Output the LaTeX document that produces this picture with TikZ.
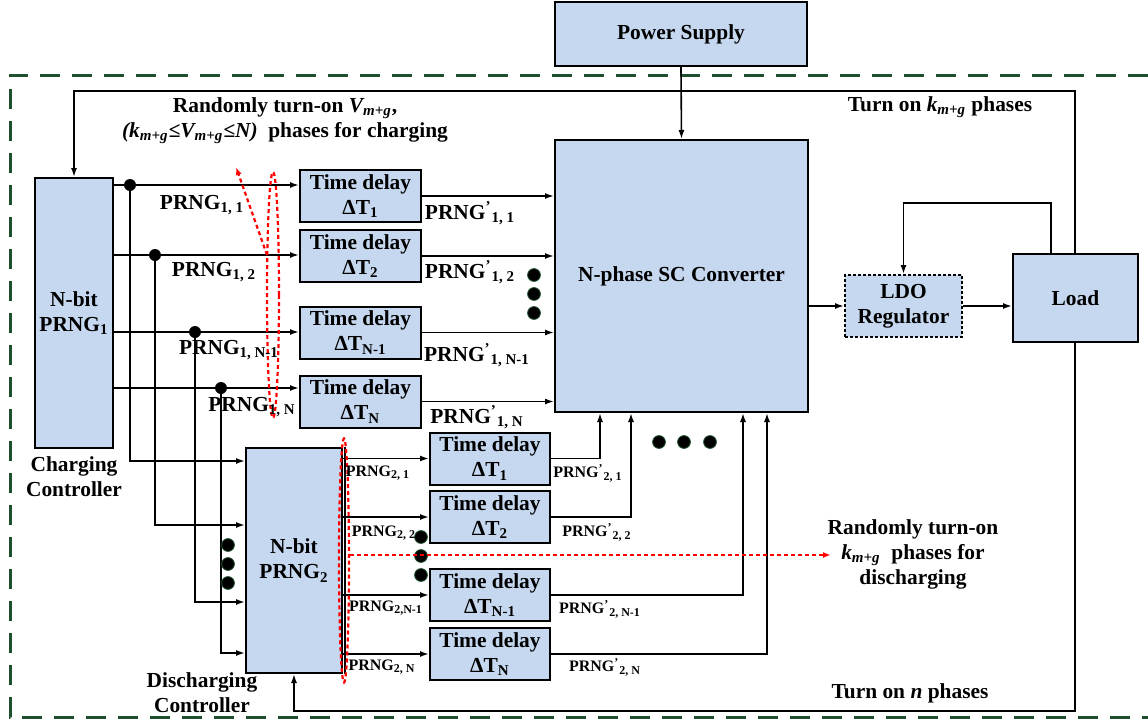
\documentclass[tikz,border=0pt]{standalone}
\usepackage{fontspec}
\setmainfont{Liberation Serif}
\usetikzlibrary{arrows.meta,calc}
\definecolor{boxblue}{RGB}{198,216,239}
\definecolor{dgreen}{RGB}{30,80,45}
\newcommand{\prngl}[2]{PRNG\textsubscript{#1, #2}}
\newcommand{\prngq}[2]{PRNG\textsuperscript{’}\textsubscript{#1, #2}}
\begin{document}
\begin{tikzpicture}[x=0.5pt,y=-0.5pt,
  font=\fontsize{10.7}{12.5}\selectfont\bfseries,
  blk/.style={draw, fill=boxblue, line width=1pt, align=center, inner sep=0pt},
  tdbox/.style={blk, minimum width=60.5pt, minimum height=26pt},
  bdbox/.style={blk, minimum width=60pt, minimum height=26pt},
  arr/.style={line width=0.8pt, -{Latex[length=4.5pt,width=3pt]}},
  arrboth/.style={line width=0.8pt, {Latex[length=4.5pt,width=3pt]}-{Latex[length=4.5pt,width=3pt]}},
  wire/.style={line width=0.8pt},
  lab/.style={inner sep=0pt, align=center},
  sml/.style={inner sep=0pt, font=\fontsize{8}{9.5}\selectfont\bfseries},
  redd/.style={red, line width=1.1pt, dash pattern=on 2pt off 1.5pt},
  jdot/.style={fill=black},
  edot/.style={fill=black, draw=dgreen, line width=0.4pt}]
\useasboundingbox (0,0) rectangle (1148,723);

% outer dashed frame
\draw[dgreen, line width=1.5pt, dash pattern=on 10pt off 6pt] (1148,75) -- (10,75) -- (10,717) -- (1148,717);

% feedback loop coordinates
\coordinate (tr) at (1075,91);
\coordinate (br) at (1075,711);

% main blocks
\node[blk, minimum width=126pt, minimum height=32pt] (ps) at (681,34) {Power Supply};
\node[blk, minimum width=126.5pt, minimum height=136pt] (sc) at (681.5,276) {N-phase SC Converter};
\node[blk, minimum width=39pt, minimum height=135pt] (cc) at (74,313) {N-bit\\PRNG\textsubscript{1}};
\node[blk, minimum width=48pt, minimum height=112.5pt] (p2) at (294,560.5) {N-bit\\PRNG\textsubscript{2}};
\node[blk, dash pattern=on 1.5pt off 1pt, minimum width=58.5pt, minimum height=31pt] (ldo) at (903.5,306) {LDO\\Regulator};

% outer feedback loop (drawn before load so the load box covers it)
\draw[arrboth] (cc.north) |- (tr) -- (br) -| (p2.south);
\node[blk, minimum width=62.5pt, minimum height=44pt] (load) at (1075.5,298) {Load};

% time delay blocks (charging)
\node[tdbox] (td1) at (360.5,196) {Time delay\\ΔT\textsubscript{1}};
\node[tdbox] (td2) at (360.5,256) {Time delay\\ΔT\textsubscript{2}};
\node[tdbox] (td3) at (360.5,332.5) {Time delay\\ΔT\textsubscript{N-1}};
\node[tdbox] (td4) at (360.5,401.5) {Time delay\\ΔT\textsubscript{N}};

% time delay blocks (discharging)
\node[bdbox] (bd1) at (490,458.5) {Time delay\\ΔT\textsubscript{1}};
\node[bdbox] (bd2) at (490,517) {Time delay\\ΔT\textsubscript{2}};
\node[bdbox] (bd3) at (490,595) {Time delay\\ΔT\textsubscript{N-1}};
\node[bdbox] (bd4) at (490,654) {Time delay\\ΔT\textsubscript{N}};

% junctions on charging outputs
\coordinate (j1) at (130,185);
\coordinate (j2) at (155,255);
\coordinate (j3) at (195,332);
\coordinate (j4) at (221,388);

\draw[arr] (cc.east |- j1) -- (td1.west |- j1);
\draw[arr] (cc.east |- j2) -- (td2.west |- j2);
\draw[arr] (cc.east |- j3) -- (td3.west |- j3);
\draw[arr] (cc.east |- j4) -- (td4.west |- j4);

\draw[arr] (j1) |- ($(p2.north west)+(0,14)$);
\draw[arr] (j2) |- ($(p2.north west)+(0,78)$);
\draw[arr] (j3) |- ($(p2.north west)+(0,155)$);
\draw[arr] (j4) |- ($(p2.north west)+(0,206)$);

\foreach \j in {j1,j2,j3,j4} \fill[jdot] (\j) circle (3pt);

% charging time delay outputs
\draw[arr] (td1.east) -- (td1.east -| sc.west);
\draw[arr] (td2.east) -- (td2.east -| sc.west);
\draw[arr] (td3.east) -- (td3.east -| sc.west);
\draw[arr] (td4.east) -- (td4.east -| sc.west);

% PRNG2 outputs
\draw[arr] (p2.east |- bd1.west) -- (bd1.west);
\draw[arr] (p2.east |- bd2.west) -- (bd2.west);
\draw[arr] (p2.east |- bd3.west) -- (bd3.west);
\draw[arr] (p2.east |- bd4.west) -- (bd4.west);
\draw[line width=1pt] ($(p2.north east)+(2,0)$) -- ($(p2.south east)+(2,0)$);

% discharging time delay outputs
\draw[arr] (bd1.east) -| ($(sc.south west)+(46,0)$);
\draw[arr] (bd2.east) -| ($(sc.south west)+(77,0)$);
\draw[arr] (bd3.east) -| ($(sc.south west)+(189,0)$);
\draw[arr] (bd4.east) -| ($(sc.south west)+(213,0)$);

% power path
\draw[arr] (ps.south) -- (sc.north);
\draw[arr] (sc.east |- ldo.west) -- (ldo.west);
\draw[arr] (ldo.east) -- (ldo.east -| load.west);
\draw[arr] ($(load.north west)+(39,0)$) -- ++(0,-50) -| (ldo.north);

% ellipsis dots
\foreach \p in {(534,275),(534,294),(534,313),(659,442),(684,442),(710,442),(228,545),(228,564),(228,583),(421,537),(421,556),(421,575)}
  \fill[edot] \p circle (3.2pt);

% red dotted annotations
\draw[redd] (273,295) ellipse [x radius=6, y radius=123];
\draw[redd, -{Latex[length=4pt,width=3pt]}] (267,255) -- (236,167);
\draw[redd] (344,560.5) ellipse [x radius=5, y radius=122];
\draw[redd, -{Latex[length=4pt,width=3pt]}] (350,555) -- (831,555);

% labels
\node[lab] (t1) at (285,121) {Randomly turn-on {\itshape V\textsubscript{m+g}},\\{\itshape (k\textsubscript{m+g}≤V\textsubscript{m+g}≤N)}\ \ phases for charging};
\node[lab] (t2) at (940,107) {Turn on {\itshape k\textsubscript{m+g}} phases};
\node[lab] (t3) at (910,693) {Turn on {\itshape n} phases};
\node[lab] (t4) at (913,554) {Randomly turn-on\\{\itshape k\textsubscript{m+g}}\ \ phases for\\discharging};
\node[lab] (t5) at (74,477) {Charging\\Controller};
\node[lab] (t6) at (202,693) {Discharging\\Controller};

\node[lab] (l11) at (202,205) {\prngl{1}{1}};
\node[lab] (l12) at (214,272) {\prngl{1}{2}};
\node[lab] (l13) at (229,350) {\prngl{1}{N-1}};
\node[lab] (l14) at (252,407) {\prngl{1}{N}};
\node[lab] (m11) at (470,213) {\prngq{1}{1}};
\node[lab] (m12) at (470,272) {\prngq{1}{2}};
\node[lab] (m13) at (477,355) {\prngq{1}{N-1}};
\node[lab] (m14) at (477,417) {\prngq{1}{N}};

\node[sml] (l21) at (378,473) {\prngl{2}{1}};
\node[sml] (l22) at (384,533) {\prngl{2}{2}};
\node[sml] (l23) at (386,608) {PRNG\textsubscript{2,N-1}};
\node[sml] (l24) at (382,667) {\prngl{2}{N}};
\node[sml] (m21) at (588,473) {\prngq{2}{1}};
\node[sml] (m22) at (597,532) {\prngq{2}{2}};
\node[sml] (m23) at (600,609) {\prngq{2}{N-1}};
\node[sml] (m24) at (605,667) {\prngq{2}{N}};
\end{tikzpicture}
\end{document}
